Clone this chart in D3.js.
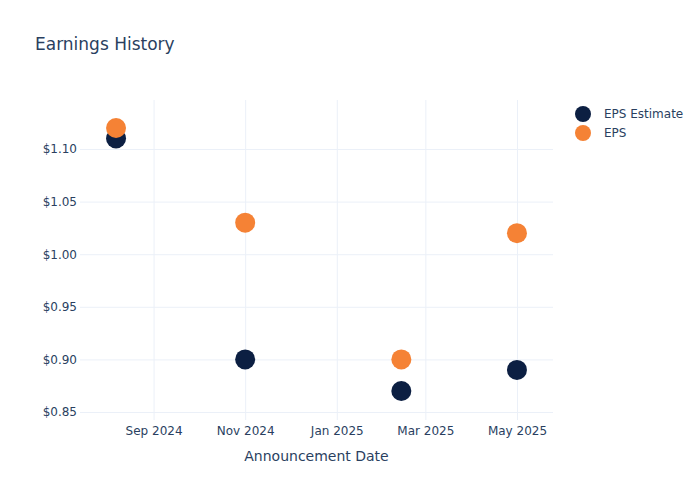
<!DOCTYPE html>
<html><head><meta charset="utf-8">
<script src="https://cdn.jsdelivr.net/npm/d3@7"></script>
<style>body{margin:0;background:#fff;} text{font-family:"DejaVu Sans",sans-serif;}</style>
</head><body>
<svg id="c" width="700" height="500"></svg>
<script>
const dates = ["2024-08-07","2024-11-01","2025-02-13","2025-05-01"];
const epsEstimate = [1.11, 0.90, 0.87, 0.89];
const eps = [1.12, 1.03, 0.90, 1.02];
const seriesNames = ["EPS Estimate","EPS"];
const seriesColors = ["#0c1f42","#f58235"];
const yTicks = [0.85,0.90,0.95,1.00,1.05,1.10];
const xTicks = ["2024-09-01","2024-11-01","2025-01-01","2025-03-01","2025-05-01"];
const xDomain = ["2024-07-14","2025-05-25"];
const yDomain = [0.8424, 1.1466];

const parse = d3.utcParse("%Y-%m-%d");
const svg = d3.select("#c");
const L=80,R=553,T=100,B=420;
const x = d3.scaleUtc().domain(xDomain.map(parse)).range([L,R]);
const y = d3.scaleLinear().domain(yDomain).range([B,T]);
const txt="#2a3f5f", grid="#ebf0f8";

const xAxis = d3.axisBottom(x).tickValues(xTicks.map(parse)).tickFormat(d3.utcFormat("%b %Y")).tickSize(-(B-T)).tickPadding(6);
const gx = svg.append("g").attr("transform",`translate(0,${B})`).call(xAxis);
gx.select(".domain").remove();
gx.selectAll("line").attr("stroke",grid);
gx.selectAll("text").attr("fill",txt).attr("font-size",12).style("font-family","DejaVu Sans");

const yAxis = d3.axisLeft(y).tickValues(yTicks).tickFormat(d=>"$"+d.toFixed(2)).tickSize(-(R-L)).tickPadding(3);
const gy = svg.append("g").attr("transform",`translate(${L},0)`).call(yAxis);
gy.select(".domain").remove();
gy.selectAll("line").attr("stroke",grid);
gy.selectAll("text").attr("fill",txt).attr("font-size",12).style("font-family","DejaVu Sans");

const series=[epsEstimate,eps];
series.forEach((vals,i)=>{
  svg.append("g").selectAll("circle").data(vals).join("circle")
    .attr("cx",(d,j)=>x(parse(dates[j]))).attr("cy",d=>y(d)).attr("r",10)
    .attr("fill",seriesColors[i]);
});

svg.append("text").attr("x",35).attr("y",50).attr("fill",txt).attr("font-size",17).text("Earnings History");
svg.append("text").attr("x",(L+R)/2).attr("y",461).attr("text-anchor","middle").attr("fill",txt).attr("font-size",14).text("Announcement Date");

seriesNames.forEach((n,i)=>{
  const yy=114+i*19;
  svg.append("circle").attr("cx",583).attr("cy",yy).attr("r",8).attr("fill",seriesColors[i]);
  svg.append("text").attr("x",604).attr("y",yy+4).attr("fill",txt).attr("font-size",12).text(n);
});
</script>
</body></html>
